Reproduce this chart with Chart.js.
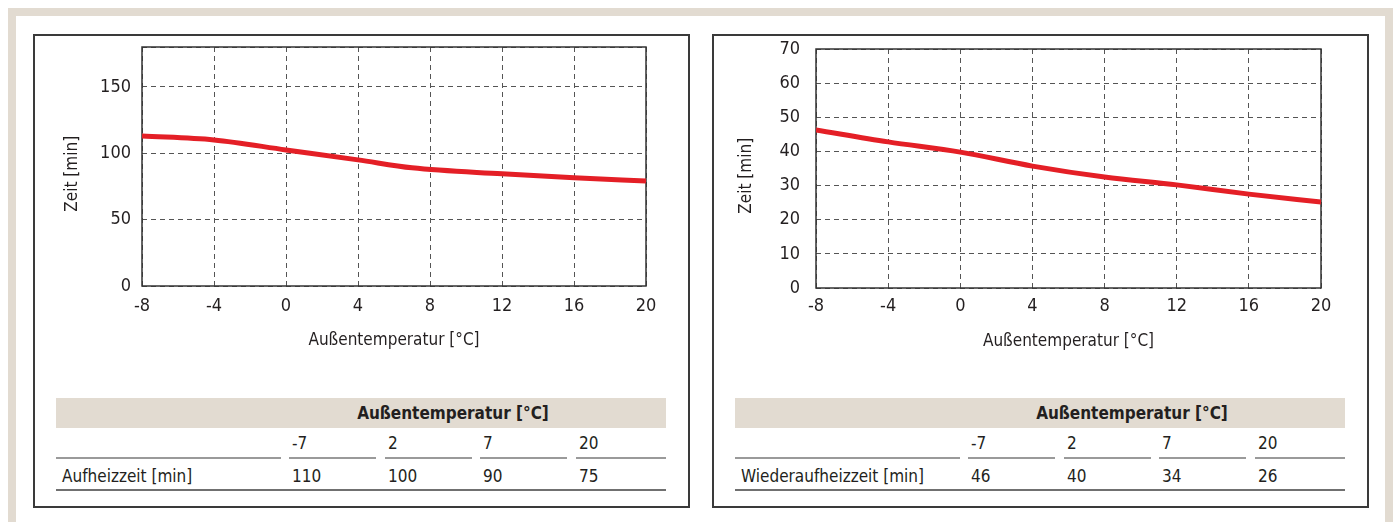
<!DOCTYPE html>
<html>
<head>
<meta charset="utf-8">
<script src="https://cdn.jsdelivr.net/npm/chart.js@4.4.1/dist/chart.umd.min.js"></script>
<style>
  body { margin: 0; width: 1394px; height: 522px; background: #fff; position: relative; overflow: hidden;
         font-family: "DejaVu Sans Condensed", "Liberation Sans", sans-serif; color: #231f20; }
  .frame { position: absolute; left: 8px; top: 8px; width: 1369px; height: 600px; border: 8px solid #e2dbd1; }
  .panel { position: absolute; top: 34px; width: 653px; height: 470px; border: 2px solid #3a3a3a; }
  canvas { position: absolute; top: 36px; }
  .cell { position: absolute; font-size: 17px; white-space: nowrap; }
  .band { position: absolute; background: #e2dbd1; }
  .rule { position: absolute; height: 2px; }
</style>
</head>
<body>
<div class="frame"></div>
<div class="panel" style="left:33px"></div>
<div class="panel" style="left:712px"></div>
<canvas id="chartAuf" width="654" height="330" style="left:35px"></canvas>
<canvas id="chartWieder" width="653" height="330" style="left:714px"></canvas>
<div id="tables"></div>

<script>
// curve
const aufTemps = [-8, -4, 0, 4, 7, 12, 16, 20];
const aufCurve = [113, 110, 102.5, 95, 89, 84.5, 81.5, 79];

// curve
const wiederTemps = [-8, -4, 0, 4, 8, 12, 16, 20];
const wiederCurve = [46.3, 42.8, 39.8, 35.7, 32.5, 30.2, 27.5, 25.2];

// tables under the charts
const tableTemps = ['-7', '2', '7', '20'];
const aufTable = [110, 100, 90, 75];
const wiederTable = [46, 40, 34, 26];

const xTitle = 'Außentemperatur [°C]';
const yTitle = 'Zeit [min]';

const FONT = '"DejaVu Sans Condensed", "Liberation Sans", sans-serif';
const TEXT = '#231f20';

// solid frame round the plot area
const plotFrame = {
  id: 'plotFrame',
  beforeDatasetsDraw(chart) {
    const a = chart.chartArea, ctx = chart.ctx;
    ctx.save();
    ctx.strokeStyle = '#333';
    ctx.lineWidth = 1.5;
    ctx.strokeRect(a.left, a.top, a.right - a.left, a.bottom - a.top);
    ctx.restore();
  }
};

function makeChart(id, temps, values, o) {
  return new Chart(document.getElementById(id), {
    type: 'line',
    data: {
      datasets: [{
        data: temps.map((t, i) => ({ x: t, y: values[i] })),
        borderColor: '#e41f26',
        borderWidth: 5,
        pointRadius: 0,
        cubicInterpolationMode: 'monotone'
      }]
    },
    options: {
      responsive: false,
      animation: false,
      layout: { padding: { top: o.padTop, right: o.padRight, bottom: 0, left: 0 } },
      plugins: { legend: { display: false }, tooltip: { enabled: false } },
      scales: {
        x: {
          type: 'linear', min: -8, max: 20,
          grid: { color: '#555', lineWidth: 1, drawTicks: false },
          border: { display: false, dash: [5, 4] },
          ticks: { stepSize: 4, padding: o.xTickPad, color: TEXT, font: { family: FONT, size: 18 } },
          title: { display: true, text: xTitle, color: TEXT, padding: { top: 0, bottom: o.xTitlePad },
                   font: { family: FONT, size: 17 } },
          afterFit(s) { s.height = o.xHeight; s.paddingLeft = 0; s.paddingRight = 0; }
        },
        y: {
          type: 'linear', min: 0, max: o.yMax,
          grid: { color: '#555', lineWidth: 1, drawTicks: false },
          border: { display: false, dash: [5, 4] },
          ticks: { stepSize: o.yStep, padding: o.yTickPad, color: TEXT, font: { family: FONT, size: 18 },
                   callback: v => (v % o.yStep === 0 ? v : '') },
          title: { display: true, text: yTitle + '   ', color: TEXT, padding: { top: o.yTitlePad, bottom: 0 },
                   font: { family: FONT, size: 17 } },
          afterFit(s) { s.width = o.yWidth; s.paddingTop = 0; s.paddingBottom = 0; }
        }
      }
    },
    plugins: [plotFrame]
  });
}

makeChart('chartAuf', aufTemps, aufCurve, {
  padTop: 11, padRight: 43, xHeight: 80, yWidth: 107,
  yMax: 180, yStep: 50, xTickPad: 10, yTickPad: 11, yTitlePad: 27, xTitlePad: 15
});
makeChart('chartWieder', wiederTemps, wiederCurve, {
  padTop: 13, padRight: 46, xHeight: 78, yWidth: 102,
  yMax: 70, yStep: 10, xTickPad: 8, yTickPad: 16, yTitlePad: 22, xTitlePad: 14
});

// tables
const segs = [[0, 225], [233, 320], [329, 416], [424, 511], [520, 610]];
function addEl(cls, css, text) {
  const d = document.createElement('div');
  d.className = cls;
  d.style.cssText = css;
  if (text !== undefined) d.textContent = text;
  document.getElementById('tables').appendChild(d);
  return d;
}
function makeTable(left, rowLabel, values) {
  addEl('band', `left:${left}px;top:398px;width:610px;height:30px`);
  addEl('cell', `left:${left + 230}px;width:334px;top:398px;height:30px;line-height:30px;text-align:center;font-weight:bold`, xTitle);
  tableTemps.forEach((t, i) => {
    addEl('cell', `left:${left + segs[i + 1][0] + 3}px;top:430px;line-height:26px`, t);
    addEl('cell', `left:${left + segs[i + 1][0] + 3}px;top:463px;line-height:26px`, values[i]);
  });
  addEl('cell', `left:${left + 6}px;top:463px;line-height:26px`, rowLabel);
  segs.forEach(s => addEl('rule', `left:${left + s[0]}px;width:${s[1] - s[0]}px;top:457px;background:#9a9a9a`));
  addEl('rule', `left:${left}px;width:610px;top:489px;background:#707070`);
}
makeTable(56, 'Aufheizzeit [min]', aufTable);
makeTable(735, 'Wiederaufheizzeit [min]', wiederTable);
</script>
</body>
</html>
